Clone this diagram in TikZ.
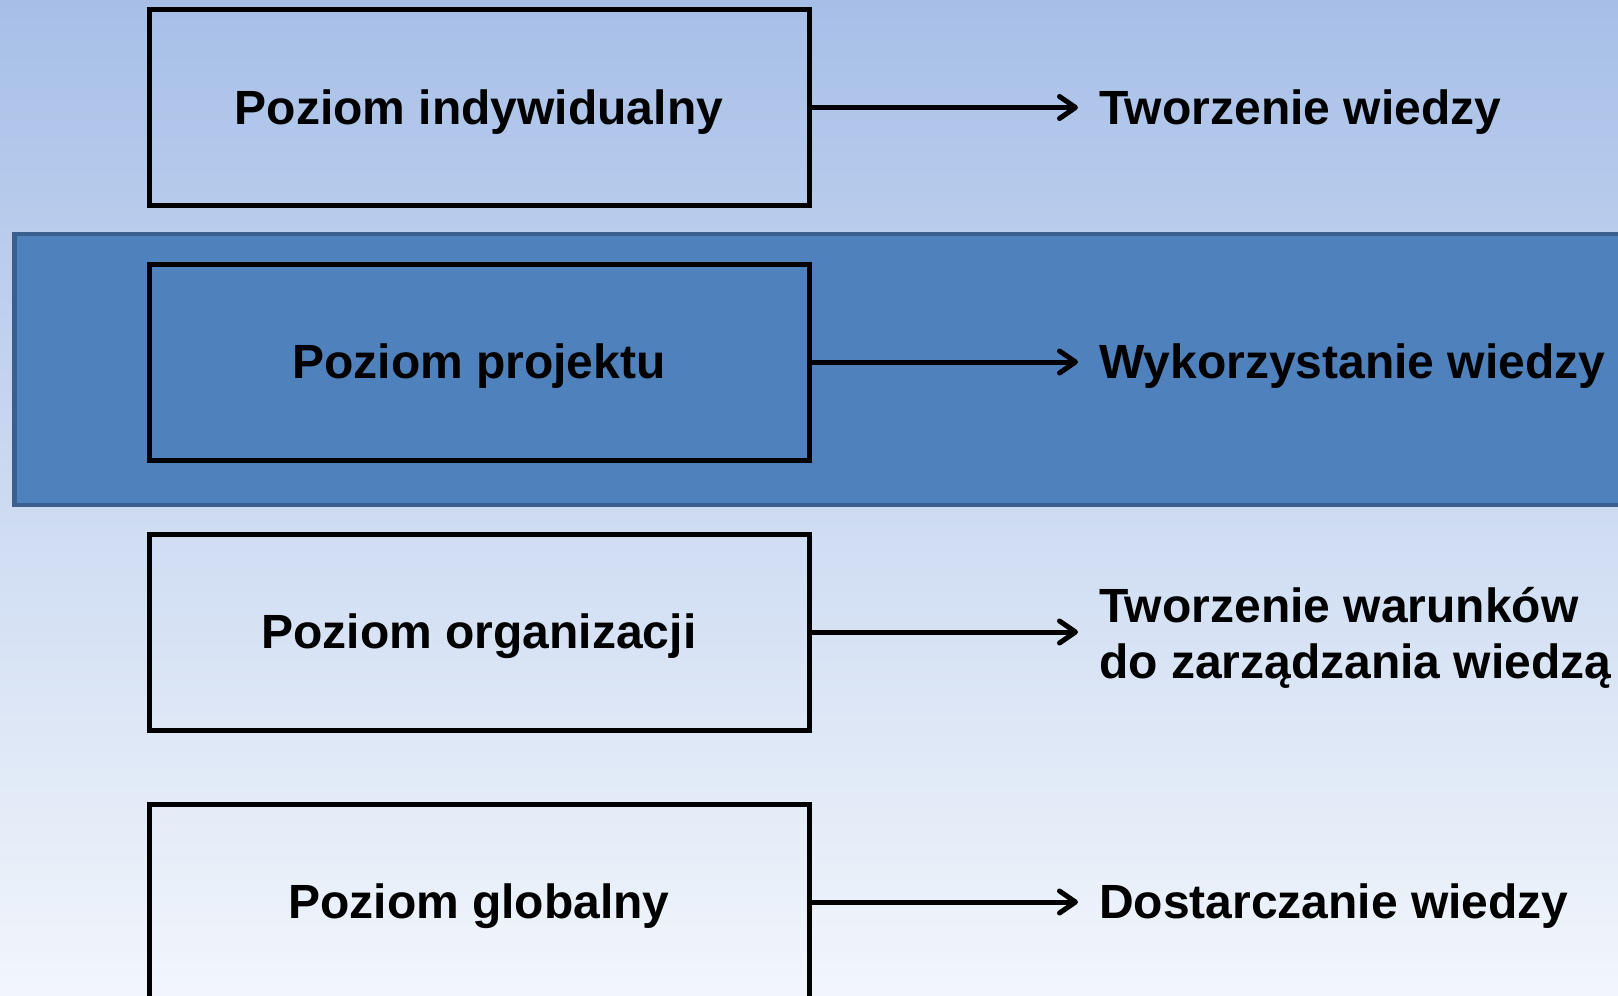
\documentclass[tikz,border=0pt]{standalone}
\usepackage{fontspec}
\setmainfont{Liberation Sans}
\usetikzlibrary{arrows.meta}
\definecolor{bgtop}{HTML}{A7BFE7}
\definecolor{bgbot}{HTML}{F2F6FC}
\definecolor{bandfill}{HTML}{4F81BD}
\definecolor{bandline}{HTML}{3A5F8D}
\tikzset{
	poziom/.style={draw=black,line width=5pt,minimum width=660pt,minimum height=196pt,
		text height=35pt,text depth=2pt,font=\fontsize{48}{57.6}\selectfont\bfseries},
	wynik/.style={anchor=base west,inner sep=0pt,align=left,font=\fontsize{48}{56}\selectfont\bfseries},
	strzalka/.style={line width=5pt,shorten >=21pt,line cap=round,
		-{Straight Barb[length=16pt,width=22pt,line cap=round,line join=round]}}
}
\begin{document}
\begin{tikzpicture}[x=1pt,y=-1pt]
		\useasboundingbox (0,0) rectangle (1618,996);
		% Hintergrund
		\shade[top color=bgtop,bottom color=bgbot] (0,0) rectangle (1618,996);
		% Streifen hinter Poziom projektu
		\draw[line width=4.5pt,draw=bandline,fill=bandfill] (14.5,234) rectangle (1640,505);
		% Kästen links
		\foreach \n/\y/\t in {1/107.5/Poziom indywidualny,2/362/Poziom projektu,3/632/Poziom organizacji,4/902/Poziom globalny}
		\node[poziom] (poziom\n) at (479,\y) {\t};
		% Texte rechts (Grundlinie, bei zwei Zeilen die untere)
		\node[wynik] (wynik1) at (1099,124) {Tworzenie wiedzy};
		\node[wynik] (wynik2) at (1099,378.5) {Wykorzystanie wiedzy};
		\node[wynik] (wynik3) at (1099,678) {Tworzenie warunków\\do zarządzania wiedzą};
		\node[wynik] (wynik4) at (1099,918.5) {Dostarczanie wiedzy};
		% Pfeile
		\foreach \n in {1,...,4}
		\draw[strzalka] (poziom\n.east) -- (wynik\n.west |- poziom\n.east);
	\end{tikzpicture}
\end{document}
